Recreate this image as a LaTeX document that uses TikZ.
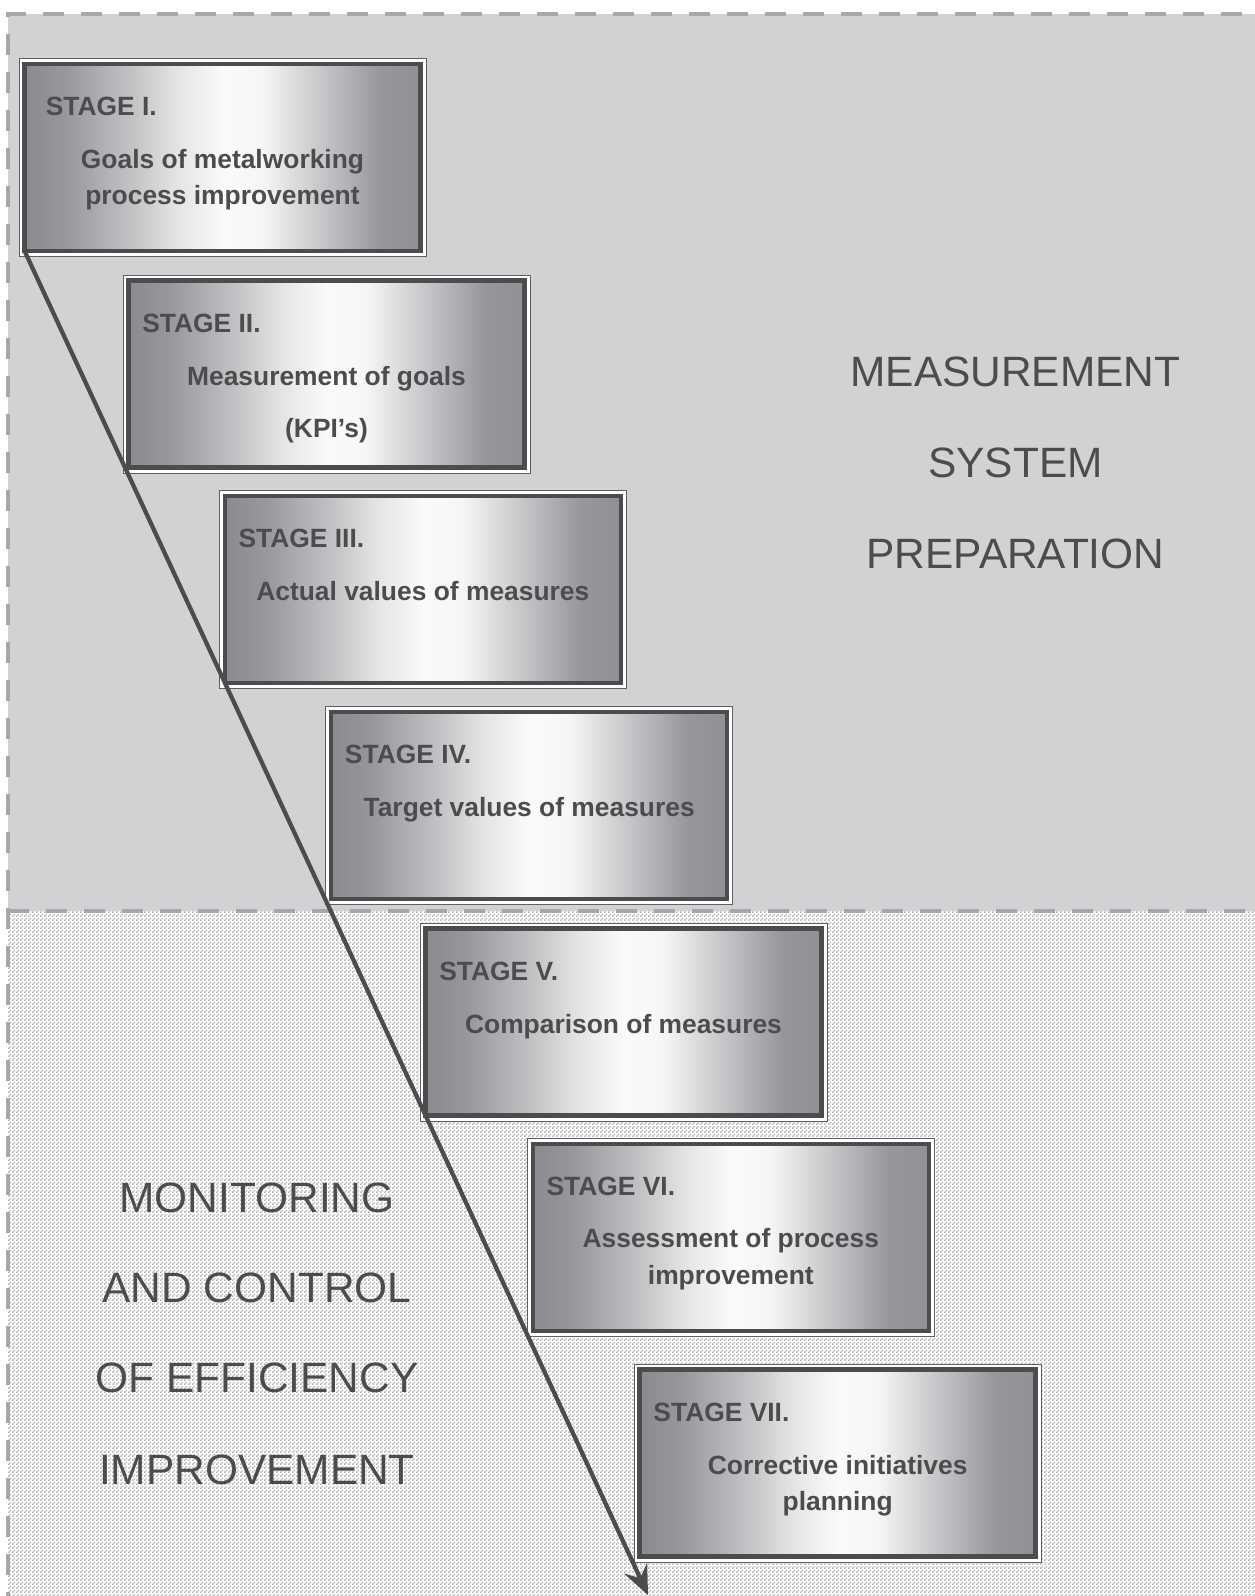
\documentclass[tikz,border=0pt]{standalone}
\usepackage{fontspec}
\setmainfont{Liberation Sans}
\usetikzlibrary{arrows.meta,patterns}
\definecolor{txtc}{RGB}{75,76,78}
\definecolor{framec}{RGB}{95,95,98}
\definecolor{topbg}{RGB}{209,210,212}
\definecolor{dashc}{RGB}{166,167,170}
\definecolor{chkc}{RGB}{184,184,187}
\definecolor{ma}{RGB}{138,139,142}
\definecolor{mb}{RGB}{150,151,154}
\definecolor{mc}{RGB}{196,197,199}
\definecolor{md}{RGB}{226,227,228}
\definecolor{me}{RGB}{250,250,250}
\definecolor{mf}{RGB}{246,246,247}
\definecolor{mg}{RGB}{214,214,216}
\definecolor{mh}{RGB}{182,183,186}
\definecolor{mi}{RGB}{150,151,154}
\definecolor{mj}{RGB}{144,145,148}
\pgfdeclarehorizontalshading{metal}{100bp}{color(0bp)=(ma); color(25bp)=(ma); color(30bp)=(mb); color(39bp)=(mc); color(44bp)=(md); color(50bp)=(me); color(55bp)=(mf); color(60bp)=(mg); color(65bp)=(mh); color(70bp)=(mi); color(75bp)=(mj); color(100bp)=(mj)}
\pgfdeclarepatternformonly{chk}{\pgfpointorigin}{\pgfpoint{3pt}{3pt}}{\pgfpoint{3pt}{3pt}}{%
  \pgfpathrectangle{\pgfpointorigin}{\pgfpoint{1.5pt}{1.5pt}}%
  \pgfpathrectangle{\pgfpoint{1.5pt}{1.5pt}}{\pgfpoint{1.5pt}{1.5pt}}%
  \pgfusepath{fill}}
\tikzset{
  stagebox/.style={rectangle, minimum width=297pt, minimum height=140.25pt,
    inner sep=0pt, outer sep=0pt, shade, shading=metal, draw=txtc, line width=3.4pt,
    preaction={draw=framec, line width=9pt},
    preaction={draw=white, line width=7.5pt}},
  stagetitle/.style={anchor=base west, inner sep=0pt, text=txtc, font=\fontsize{19.8pt}{23pt}\selectfont\bfseries},
  stagebody/.style={anchor=base, inner sep=0pt, text=txtc, font=\fontsize{19.8pt}{23pt}\selectfont\bfseries},
  bigtext/.style={anchor=base, inner sep=0pt, text=txtc, font=\fontsize{31.8pt}{36pt}\selectfont},
  dashline/.style={draw=dashc, line width=2.8pt, dash pattern=on 16pt off 12.5pt},
  flow/.style={draw=txtc, line width=3.2pt, -{Stealth[length=22pt, width=19pt, inset=8pt]}}
}
\begin{document}
\begin{tikzpicture}[x=0.75pt, y=-0.75pt]
\useasboundingbox (0,0) rectangle (1254,1596);
% page background
\fill[white] (-20,-20) rectangle (1280,1620);
% regions
\fill[topbg] (8,14) rectangle (1280,911);
\fill[pattern=chk, pattern color=chkc] (8,911) rectangle (1280,1620);
\draw[dashline] (1280,14) -- (8,14) -- (8,1620);
\draw[dashline] (8,911) -- (1280,911);
% region labels
\node[bigtext] (ml1) at (1015.5,386.7) {MEASUREMENT};
\node[bigtext] (ml2) at (1015.5,477.3) {SYSTEM};
\node[bigtext] (ml3) at (1015.5,568.3) {PREPARATION};
\node[bigtext] (cl1) at (257,1212.7) {MONITORING};
\node[bigtext] (cl2) at (257,1302.7) {AND CONTROL};
\node[bigtext] (cl3) at (257,1392.7) {OF EFFICIENCY};
\node[bigtext] (cl4) at (257,1484) {IMPROVEMENT};
% stage boxes
\node[stagebox] (b1) at (222.5,157.3) {};
\node[stagebox] (b2) at (326.5,374) {};
\node[stagebox] (b3) at (422.8,589.7) {};
\node[stagebox] (b4) at (529.2,805.7) {};
\node[stagebox] (b5) at (623.5,1022) {};
\node[stagebox] (b6) at (730.8,1237.3) {};
\node[stagebox] (b7) at (837.7,1463) {};
% texts
\node[stagetitle] (t1) at (45.5,157.3-42) {STAGE I.};
\node[stagebody] (a1) at (222.5,157.3+11) {Goals of metalworking};
\node[stagebody] (c1) at (222.5,157.3+47.5) {process improvement};
\node[stagetitle] (t2) at (326.5-184.5,374-42) {STAGE II.};
\node[stagebody] (a2) at (326.5,374+11.5) {Measurement of goals};
\node[stagebody] (c2) at (326.5,374+63) {(KPI’s)};
\node[stagetitle] (t3) at (422.8-184.5,589.7-42) {STAGE III.};
\node[stagebody] (a3) at (422.8,589.7+11) {Actual values of measures};
\node[stagetitle] (t4) at (529.2-184.5,805.7-42) {STAGE IV.};
\node[stagebody] (a4) at (529.2,805.7+11) {Target values of measures};
\node[stagetitle] (t5) at (623.5-184.5,1022-42) {STAGE V.};
\node[stagebody] (a5) at (623.5,1022+11) {Comparison of measures};
\node[stagetitle] (t6) at (730.8-184.5,1237.3-42) {STAGE VI.};
\node[stagebody] (a6) at (730.8,1237.3+10) {Assessment of process};
\node[stagebody] (c6) at (730.8,1237.3+47) {improvement};
\node[stagetitle] (t7) at (837.7-184.5,1463-42) {STAGE VII.};
\node[stagebody] (a7) at (837.7,1463+11) {Corrective initiatives};
\node[stagebody] (c7) at (837.7,1463+47.5) {planning};
% flow arrow
\coordinate (tip) at (648,1595);
\draw[flow] (b1.south west) -- (tip);
\end{tikzpicture}
\end{document}
